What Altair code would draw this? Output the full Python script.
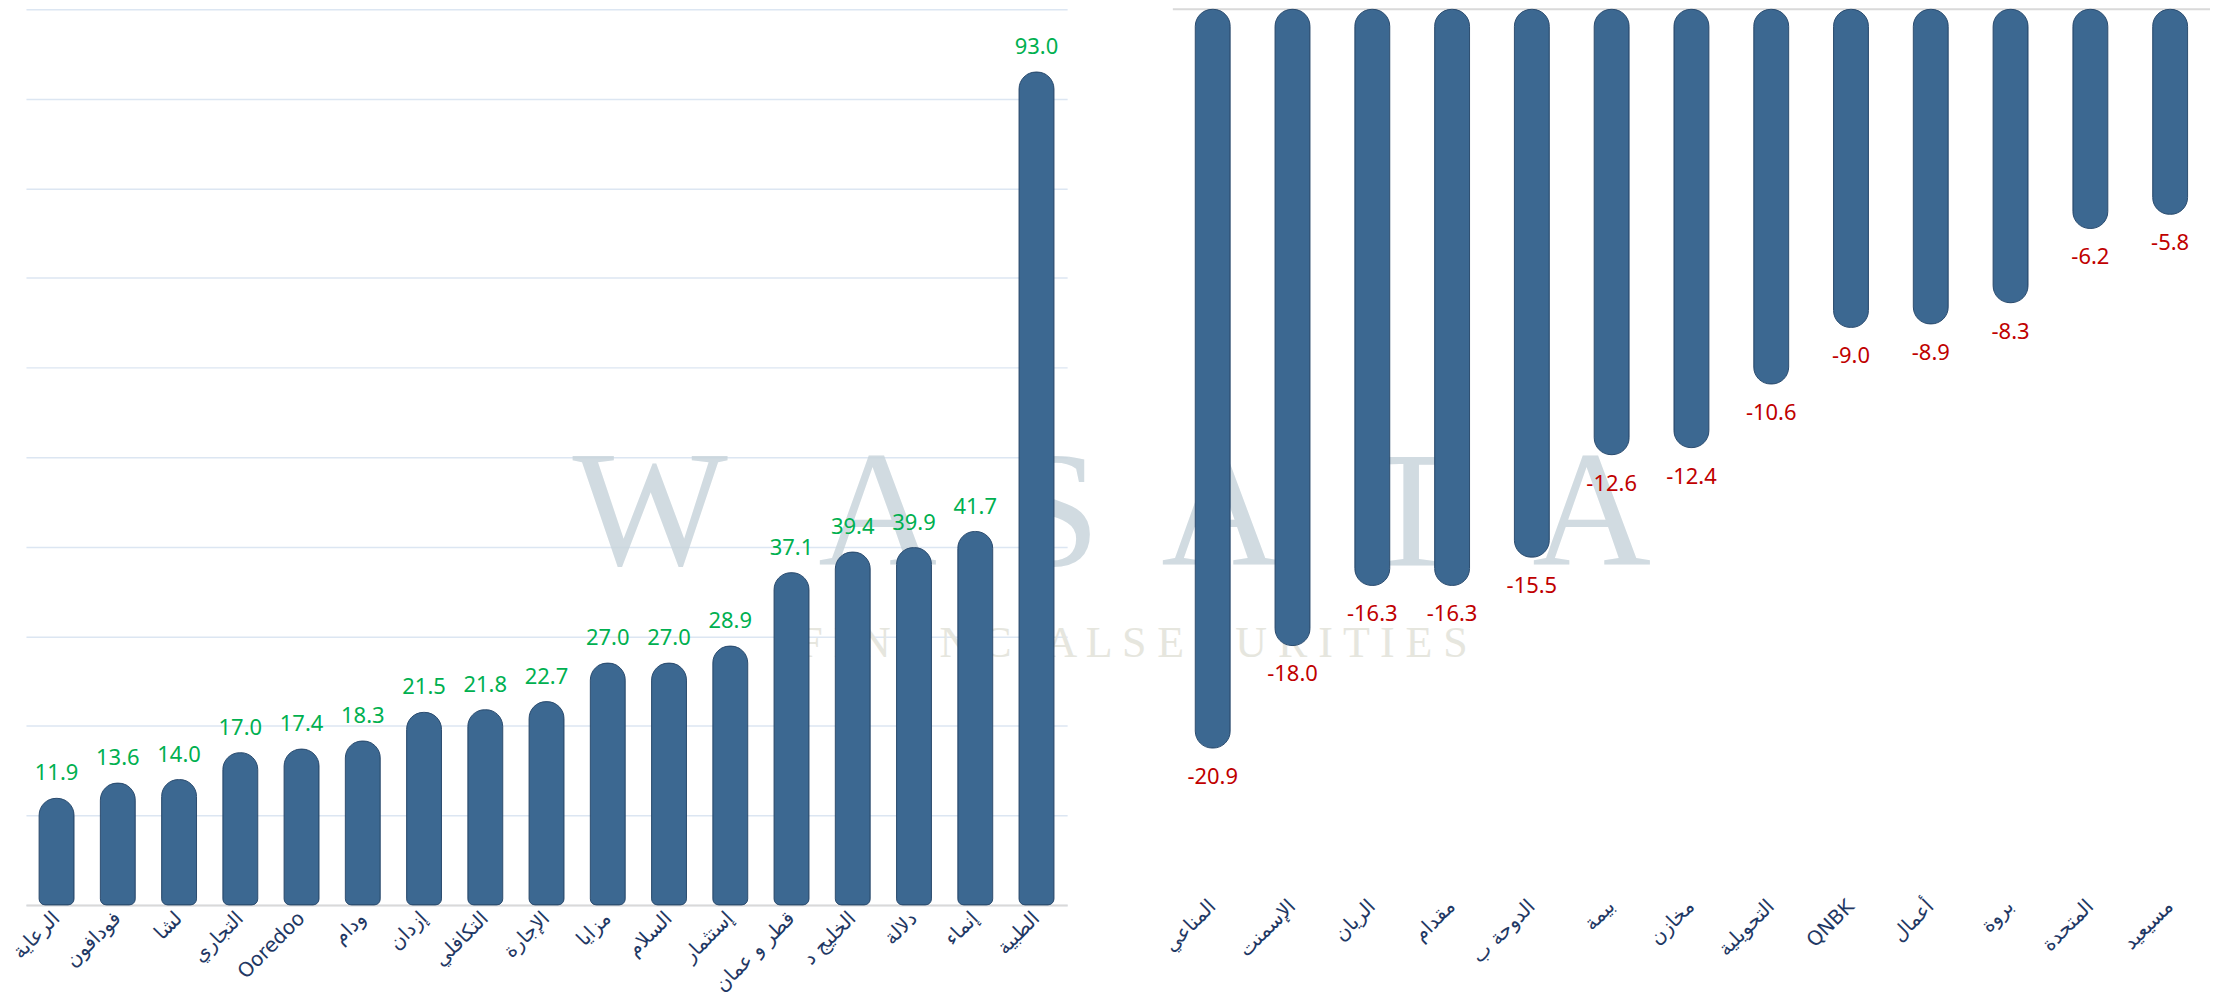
import altair as alt
import pandas as pd

# ---------------- data ----------------
pos_names = ["الرعاية", "فودافون", "لشا", "التجاري", "Ooredoo", "ودام", "إزدان", "التكافلي",
             "الإجارة", "مزايا", "السلام", "إستثمار", "قطر و عمان", "الخليج د", "دلالة", "إنماء", "الطبية"]
pos_values = [11.9, 13.6, 14.0, 17.0, 17.4, 18.3, 21.5, 21.8, 22.7, 27.0, 27.0, 28.9, 37.1, 39.4, 39.9, 41.7, 93.0]

neg_names = ["المناعي", "الإسمنت", "الريان", "مقدام", "الدوحة ب", "بيمة", "مخازن", "التحويلية",
             "QNBK", "أعمال", "بروة", "المتحدة", "مسيعيد"]
neg_values = [-20.9, -18.0, -16.3, -16.3, -15.5, -12.6, -12.4, -10.6, -9.0, -8.9, -8.3, -6.2, -5.8]

pos_ticks = [0, 10, 20, 30, 40, 50, 60, 70, 80, 90, 100]
neg_ticks = [-25, -20, -15, -10, -5, 0]

wm_letters = ["W", "A", "S", "A", "T", "A"]
wm_sub = "F I N A N C I A L   S E C U R I T I E S"

# ---------------- style ----------------
BAR = "#3C6891"
BAR_EDGE = "#2B4C6F"
GRID = "#DCE6F2"
LABEL = "#1F3864"
POS_TXT = "#00B050"
NEG_TXT = "#C00000"

LW, LH = 1044, 898
RW, RH = 1040, 886

pos_df = pd.DataFrame({"name": pos_names, "value": pos_values})
neg_df = pd.DataFrame({"name": neg_names, "value": neg_values})


def x_axis(domain):
    kw = dict(title=None, labelAngle=-45, labelAlign="right", labelBaseline="middle",
              labelFont="DejaVu Sans", labelFontSize=20, labelColor=LABEL, ticks=False,
              labelPadding=10, labelLimit=300, labelOverlap=False)
    if domain:
        kw.update(domain=True, domainColor="#D9D9D9", domainWidth=2)
    else:
        kw.update(domain=False)
    return alt.Axis(**kw)


def y_axis(vals):
    return alt.Axis(title=None, values=vals, labels=False, ticks=False, domain=False,
                    grid=True, gridColor=GRID, gridWidth=1.5)


# ---------------- watermark (left panel, overflowing) ----------------
wm_layers = []
wm_x = [626, 854, 1031, 1198, 1389, 1570]
for ch, px in zip(wm_letters, wm_x):
    wm_layers.append(
        alt.Chart(pd.DataFrame({"t": [ch]})).mark_text(
            font="Liberation Serif", fontSize=165, color="#C9D5DC", opacity=0.85,
            baseline="alphabetic", align="center"
        ).encode(x=alt.value(px), y=alt.value(557), text="t:N")
    )
wm_layers.append(
    alt.Chart(pd.DataFrame({"t": [wm_sub]})).mark_text(
        font="Liberation Serif", fontSize=44, color="#E6E6DE",
        baseline="alphabetic", align="center"
    ).encode(x=alt.value(1110), y=alt.value(649), text="t:N")
)

LABEL_EXPR = "replace(format(datum.value, '.1f'), '\u2212', '-')"

# ---------------- left panel ----------------
lx = alt.X("name:N", sort=pos_names, axis=x_axis(True),
           scale=alt.Scale(paddingInner=0, paddingOuter=0))
ly = alt.Y("value:Q", scale=alt.Scale(domain=[0, 100], nice=False, zero=True), axis=y_axis(pos_ticks))

left_base = alt.Chart(pos_df).encode(x=lx, y=ly)
left_bars = left_base.mark_bar(
    size=35, color=BAR, stroke=BAR_EDGE, strokeWidth=1,
    cornerRadiusTopLeft=17, cornerRadiusTopRight=17,
    cornerRadiusBottomLeft=6, cornerRadiusBottomRight=6,
)
left_text = left_base.transform_calculate(lbl=LABEL_EXPR).mark_text(
    dy=-25, baseline="middle", font="Noto Sans", fontSize=22, color=POS_TXT
).encode(text="lbl:N")

left = alt.layer(*wm_layers, left_bars, left_text).properties(width=LW, height=LH)

# ---------------- right panel ----------------
rx = alt.X("name:N", sort=neg_names, axis=x_axis(False),
           scale=alt.Scale(paddingInner=0, paddingOuter=0))
ry = alt.Y("value:Q", scale=alt.Scale(domain=[-25, 0], nice=False), axis=y_axis(neg_ticks))

right_base = alt.Chart(neg_df).encode(x=rx, y=ry)
zero_rule = alt.Chart(pd.DataFrame({"v": [0]})).mark_rule(color="#D9D9D9", strokeWidth=2).encode(
    y=alt.Y("v:Q", scale=alt.Scale(domain=[-25, 0], nice=False), axis=None)
)
right_bars = right_base.mark_bar(
    size=35, color=BAR, stroke=BAR_EDGE, strokeWidth=1, cornerRadius=17
)
right_text = right_base.transform_calculate(lbl=LABEL_EXPR).mark_text(
    dy=29, baseline="middle", font="Noto Sans", fontSize=22, color=NEG_TXT
).encode(text="lbl:N")

right = alt.layer(zero_rule, right_bars, right_text).properties(width=RW, height=RH)

chart = alt.hconcat(left, right, spacing=106, bounds="flush").properties(
    autosize=alt.AutoSizeParams(type="none"),
    padding={"left": 18, "top": 0, "right": 2198, "bottom": 997}
).configure_view(stroke=None)

chart.save("out.html", embed_options={"renderer": "svg", "actions": False})
